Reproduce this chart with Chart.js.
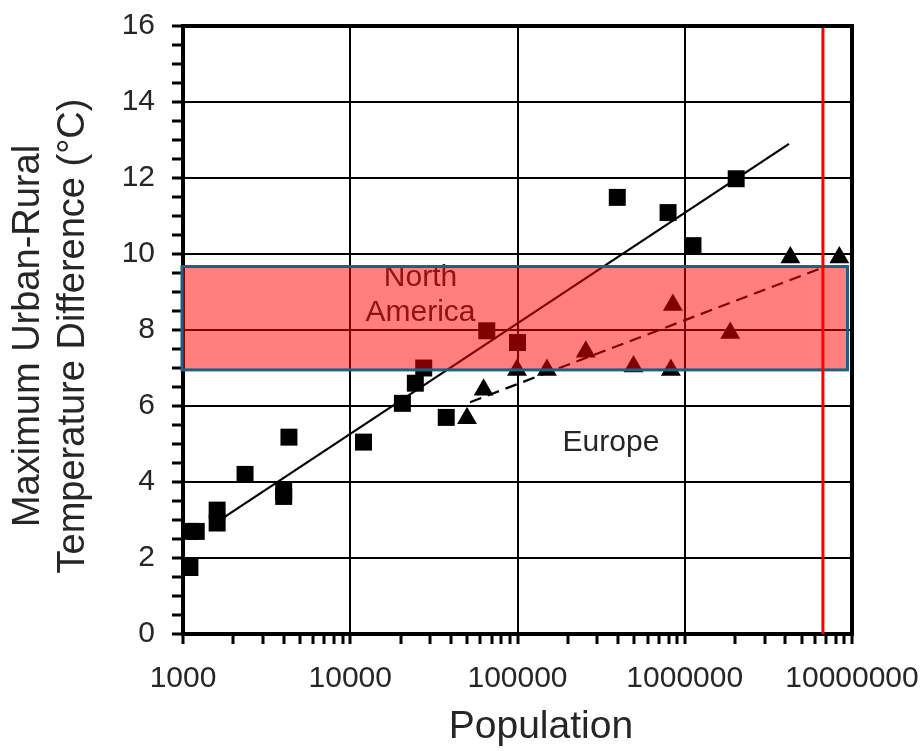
<!DOCTYPE html>
<html><head><meta charset="utf-8">
<script src="https://cdn.jsdelivr.net/npm/chart.js@4"></script>
<style>html,body{margin:0;padding:0;background:#fff}</style>
</head><body>
<canvas id="c" width="923" height="751"></canvas>
<script>
// North America (squares)
const naPopulation = [1100, 1100, 1200, 1600, 1600, 2350, 4000, 4000, 4300, 12000, 20500, 24500, 27500, 37500, 65500, 100000, 395000, 795000, 1120000, 2030000];
const naDeltaT     = [1.75, 2.7, 2.7, 2.92, 3.26, 4.2, 3.62, 3.75, 5.18, 5.05, 6.07, 6.6, 7.0, 5.7, 7.98, 7.67, 11.49, 11.09, 10.22, 11.98];
// Europe (triangles)
const euPopulation = [49900, 62700, 99300, 150000, 256000, 494000, 826000, 849000, 1870000, 4280000, 8400000];
const euDeltaT     = [5.68, 6.43, 6.95, 6.95, 7.43, 7.04, 6.95, 8.66, 7.92, 9.91, 9.91];
// fitted lines (end points)
const naFitPopulation = [1600, 4200000];
const naFitDeltaT     = [2.95, 12.9];
const euFitPopulation = [52000, 6300000];
const euFitDeltaT     = [6.1, 9.6];
// highlighted band and marker line
const bandPopulation = [1000, 9400000];
const bandDeltaT     = [6.95, 9.67];
const markerPopulation = 6700000;
// annotations
const naLabelLines = ['North', 'America'];
const naLabelPopulation = 26300;
const naLabelDeltaT = [9.38, 8.45];
const euLabelText = 'Europe';
const euLabelPopulation = 362000;
const euLabelDeltaT = 5.03;
// ticks and titles
const xTickLabels = ['1000', '10000', '100000', '1000000', '10000000'];
const yTickLabels = ['0', '2', '4', '6', '8', '10', '12', '14', '16'];
const xTitle = 'Population';
const yTitle = ['Maximum Urban-Rural', 'Temperature Difference (°C)'];

const FONT = '"Liberation Sans", Arial, sans-serif';
const TXT = '#262626';
const pts = (xs, ys) => xs.map((x, i) => ({x, y: ys[i]}));

const overlay = {
  id: 'overlay',
  afterDraw(chart) {
    const {ctx, chartArea: a, scales: {x, y}} = chart;
    ctx.save();
    // text labels
    ctx.fillStyle = TXT;
    ctx.font = '30px ' + FONT;
    ctx.textAlign = 'center';
    ctx.textBaseline = 'middle';
    naLabelLines.forEach((t, i) => ctx.fillText(t, x.getPixelForValue(naLabelPopulation), y.getPixelForValue(naLabelDeltaT[i])));
    ctx.fillText(euLabelText, x.getPixelForValue(euLabelPopulation), y.getPixelForValue(euLabelDeltaT));
    // axis titles
    ctx.font = '39px ' + FONT;
    ctx.fillText(xTitle, a.left + (a.right - a.left) * 0.535, a.bottom + 93);
    ctx.font = '38px ' + FONT;
    const cy = (a.top + a.bottom) / 2 + 6;
    [[29, cy], [74, cy]].forEach(([tx, ty], i) => {
      ctx.save();
      ctx.translate(tx, ty);
      ctx.rotate(-Math.PI / 2);
      ctx.fillText(yTitle[i], 0, 0);
      ctx.restore();
    });
    // band
    const bx0 = x.getPixelForValue(bandPopulation[0]) - 1;
    const bx1 = x.getPixelForValue(bandPopulation[1]);
    const by0 = y.getPixelForValue(bandDeltaT[1]);
    const by1 = y.getPixelForValue(bandDeltaT[0]);
    ctx.fillStyle = 'rgba(255,0,0,0.5)';
    ctx.fillRect(bx0, by0, bx1 - bx0, by1 - by0);
    ctx.strokeStyle = '#1f5f85';
    ctx.lineWidth = 3;
    ctx.strokeRect(bx0, by0, bx1 - bx0, by1 - by0);
    // red marker line
    const mx = x.getPixelForValue(markerPopulation);
    ctx.strokeStyle = '#ff0000';
    ctx.lineWidth = 3;
    ctx.beginPath();
    ctx.moveTo(mx, a.top);
    ctx.lineTo(mx, a.bottom);
    ctx.stroke();
    // frame top/right
    ctx.strokeStyle = '#000';
    ctx.lineWidth = 4;
    ctx.beginPath();
    ctx.moveTo(a.left - 2, a.top);
    ctx.lineTo(a.right, a.top);
    ctx.lineTo(a.right, a.bottom + 2);
    ctx.stroke();
    ctx.restore();
  }
};

new Chart(document.getElementById('c'), {
  type: 'scatter',
  data: {
    datasets: [
      {label: 'North America fit', data: pts(naFitPopulation, naFitDeltaT), showLine: true, borderColor: '#000', borderWidth: 2.2, pointRadius: 0, order: 4},
      {label: 'Europe fit', data: pts(euFitPopulation, euFitDeltaT), showLine: true, borderColor: '#000', borderWidth: 2.2, borderDash: [12, 7], pointRadius: 0, order: 3},
      {label: 'North America', data: pts(naPopulation, naDeltaT), pointStyle: 'rect', pointRadius: 12, pointBorderWidth: 0, backgroundColor: '#000', borderColor: '#000', order: 2},
      {label: 'Europe', data: pts(euPopulation, euDeltaT), pointStyle: 'triangle', pointRadius: 11.5, pointBorderWidth: 0, backgroundColor: '#000', borderColor: '#000', order: 1}
    ]
  },
  options: {
    responsive: false,
    animation: false,
    devicePixelRatio: 1,
    clip: false,
    layout: {padding: {top: 26, right: 71, left: 0, bottom: 0}},
    plugins: {legend: {display: false}, tooltip: {enabled: false}},
    scales: {
      x: {
        type: 'logarithmic',
        min: 1000, max: 10000000,
        afterBuildTicks(scale) {
          const t = [];
          xTickLabels.forEach((lab, i) => {
            const base = Number(lab);
            t.push({value: base});
            if (i < xTickLabels.length - 1) for (let m = 2; m <= 9; m++) t.push({value: base * m});
          });
          scale.ticks = t;
        },
        afterFit(scale) { scale.height = 117; scale.paddingLeft = 0; scale.paddingRight = 0; },
        ticks: {
          autoSkip: false, maxRotation: 0, minRotation: 0, padding: 17,
          color: TXT, font: {family: FONT, size: 30},
          callback: v => xTickLabels.includes(String(v)) ? String(v) : ''
        },
        grid: {
          color: c => (c.tick && xTickLabels.includes(String(c.tick.value))) ? '#000' : 'rgba(0,0,0,0)',
          lineWidth: 2, tickColor: '#000', tickLength: 10, tickWidth: 3
        },
        border: {display: true, color: '#000', width: 4}
      },
      y: {
        min: 0, max: 16,
        afterBuildTicks(scale) {
          const t = [];
          for (let v = 0; v <= 16; v += 0.5) t.push({value: v});
          scale.ticks = t;
        },
        afterFit(scale) { scale.width = 183; scale.paddingTop = 0; scale.paddingBottom = 0; },
        ticks: {
          autoSkip: false, padding: 17,
          color: TXT, font: {family: FONT, size: 30},
          callback: v => yTickLabels.includes(String(v)) ? String(v) : ''
        },
        grid: {
          color: c => (c.tick && yTickLabels.includes(String(c.tick.value))) ? '#000' : 'rgba(0,0,0,0)',
          lineWidth: 2, tickColor: '#000', tickLength: 11, tickWidth: 3
        },
        border: {display: true, color: '#000', width: 4}
      }
    }
  },
  plugins: [overlay]
});
</script>
</body></html>
